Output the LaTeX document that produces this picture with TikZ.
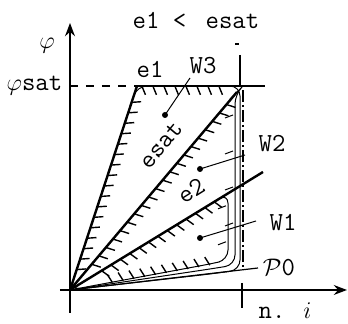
\documentclass[tikz,border=0pt]{standalone}
\usetikzlibrary{arrows.meta,decorations.markings,calc,positioning}

\tikzset{
    hatchline/.style={postaction={decorate,decoration={markings,
        mark=between positions #1 step 5.5pt with {\draw[line width=0.7pt] (0,0) -- (1.8pt,-4.4pt);}}}},
    fewticks/.style={postaction={decorate,decoration={markings,
        mark=between positions #1 step 18pt with {\draw[line width=0.5pt] (0,0) -- (1.5pt,-4pt);}}}}
}

\begin{document}
\begin{tikzpicture}[
    >=Stealth,
    x=0.5pt, y=0.5pt,
    line width=0.8pt,
    lbl/.style={font=\fontsize{13}{15}\selectfont\ttfamily, inner sep=1pt},
    dot/.style={circle, fill, inner sep=0pt, minimum size=3pt},
    char/.style={line width=1.2pt},
    border/.style={line width=0.5pt, rounded corners=5pt},
    leader/.style={line width=0.5pt}
]
    \useasboundingbox (-70,-34) rectangle (278,290);

    % axes
    \coordinate (O)    at (0,0);
    \coordinate (xmin) at (-10,0);
    \coordinate (xmax) at (277,0);
    \coordinate (ymin) at (0,-23);
    \coordinate (ymax) at (0,267);
    \draw[->] (xmin) -- (xmax);
    \draw[->] (ymin) -- (ymax);

    % corners of the lines
    \coordinate (E1)   at (67,204);
    \coordinate (Top)  at (195,204);
    \coordinate (Vup)  at (170,235);
    \coordinate (Vtr)  at (170,204);
    \coordinate (Esat) at (167,198);
    \coordinate (E2)   at (193,118);
    \coordinate (E2v)  at (158,96.6);
    \coordinate (P0)   at (188,22);
    \coordinate (Phis) at (0,204);

    % limits
    \draw[dash pattern=on 4pt off 4pt] (Phis) -- (E1);
    \draw[char] (E1) -- (Top);
    \draw[char] (Vup) -- (Vtr);
    \draw[line width=0.6pt, dash pattern=on 6pt off 1.5pt on 1pt off 1.5pt] (173,200) coordinate (Ia) -- (173,22) coordinate (Ib);
    \draw (172,7) coordinate (Ic) -- (172,-18) coordinate (Id);
    \draw[line width=0.6pt] (165,246) coordinate (Ta) -- (169,246) coordinate (Tb);

    % characteristics
    \draw[char] (O) -- (E1);
    \draw[char] (O) -- (Esat);
    \draw[char] (O) -- (E2);
    \draw[line width=0.6pt] (O) -- (P0);

    % regions W3, W2, W1
    \draw[border] (O) -- (E1) -- (Vtr) -- (170,20) -- (140,16) -- cycle;
    \draw[border] (O) -- (Esat) -- (165,196) -- (165,25) -- (140,21) -- cycle;
    \draw[border] (O) -- (E2v) -- (158,30) -- (140,26) -- cycle;

    % hatching
    \path[hatchline={0.1 and 0.97}] (O) -- (E1);
    \path[hatchline={0.05 and 0.9}] (E1) -- (164,204);
    \path[hatchline={0.13 and 0.95}] (O) -- (Esat);
    \path[hatchline={0.2 and 0.95}] (O) -- (E2v);
    \path[hatchline={0.08 and 0.75}] (152,27) -- (O);
    \path[fewticks={0.1 and 0.9}] (163,190) -- (163,40);
    \path[fewticks={0.15 and 0.9}] (156,92) -- (156,40);

    % labels
    \node[lbl] (title) at (126,270) {e1 <\hspace{3pt} esat};
    \node[lbl] (phi) at (-23,244) {$\varphi$};
    \node[lbl, anchor=east] (phisat) at (-5,204) {$\varphi$sat};
    \node[lbl] (e1) at (80,221) {e1};
    \node[lbl] (W3) at (133,224) {W3};
    \node[lbl] (W2) at (202,146) {W2};
    \node[lbl] (W1) at (213,67) {W1};
    \node[lbl] (P0lbl) at (209,23) {$\mathcal{P}$0};
    \node[lbl, rotate=50] (esat) at (91,145) {esat};
    \node[lbl, rotate=32] (e2) at (121,99) {e2};
    \node[lbl] (ni) at (215,-21) {n. $i$};

    % leaders
    \node[dot] (d3) at (95,175) {};
    \node[dot] (d2) at (130,121) {};
    \node[dot] (d1) at (130,52) {};
    \coordinate (l3) at (120,212);
    \coordinate (l2) at (175,135);
    \coordinate (l1) at (186,69);
    \draw[leader] (d3.center) -- (l3);
    \draw[leader] (d2.center) -- (l2);
    \draw[leader] (d1.center) -- (l1);

\end{tikzpicture}
\end{document}
